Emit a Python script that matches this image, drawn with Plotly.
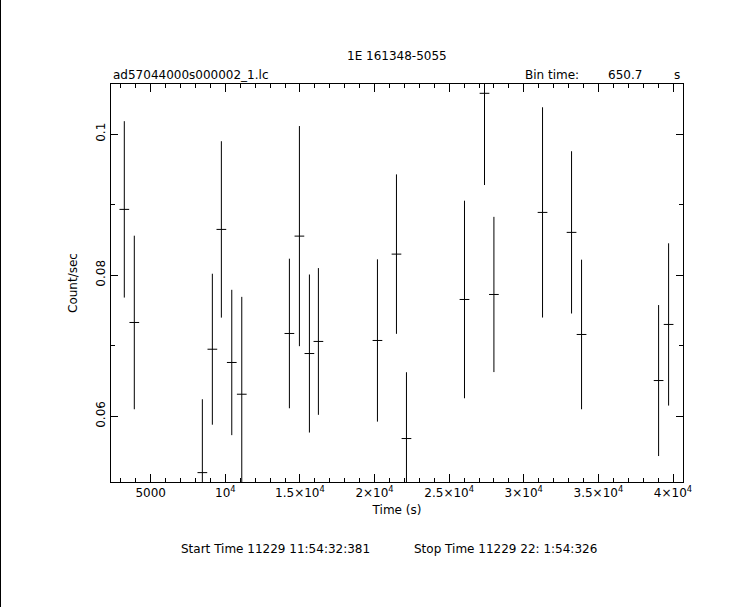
import plotly.graph_objects as go

# Data
time_s = [3230, 3900, 8460, 9130, 9734, 10431, 11102, 14293, 14964, 15634, 16237,
          20194, 21468, 22138, 26027, 27368, 27998, 31257, 33201, 33872, 39035, 39705]
rate = [0.08932, 0.07329, 0.05201, 0.06950, 0.08648, 0.06762, 0.06312, 0.07173,
        0.08553, 0.06889, 0.07060, 0.07074, 0.08298, 0.05684, 0.07655, 0.10577,
        0.07726, 0.08889, 0.08606, 0.07159, 0.06506, 0.07301]
rate_err = [0.0125, 0.0123, 0.0104, 0.0107, 0.0125, 0.0103, 0.0138, 0.0106,
            0.0156, 0.0112, 0.0104, 0.0115, 0.0113, 0.0094, 0.0140, 0.0130,
            0.0110, 0.0149, 0.0115, 0.0106, 0.0107, 0.0115]
half_bin = 325.35

x_tickvals = [5000, 10000, 15000, 20000, 25000, 30000, 35000, 40000]
x_ticktext = ["5000", "10<sup>4</sup>", "1.5×10<sup>4</sup>", "2×10<sup>4</sup>",
              "2.5×10<sup>4</sup>", "3×10<sup>4</sup>", "3.5×10<sup>4</sup>", "4×10<sup>4</sup>"]
y_tickvals = [0.06, 0.08, 0.1]
y_ticktext = ["0.06", "0.08", "0.1"]

FONT = "DejaVu Sans"
fig = go.Figure()
fig.add_trace(go.Scatter(
    x=time_s, y=rate, mode="markers",
    marker=dict(size=1, color="black", opacity=0),
    error_y=dict(type="data", array=rate_err, color="black", thickness=1, width=0),
    error_x=dict(type="constant", value=half_bin, color="black", thickness=1, width=0),
    showlegend=False, hoverinfo="skip",
))

axis_common = dict(
    showgrid=False, zeroline=False, showline=True, linecolor="black", linewidth=1,
    mirror="ticks", ticks="inside", tickcolor="black",
    tickfont=dict(family=FONT, size=12, color="black"),
)
fig.update_xaxes(
    range=[2338, 40670], tickmode="array", tickvals=x_tickvals, ticktext=x_ticktext,
    ticklen=8, tickwidth=1,
    minor=dict(dtick=1000, tick0=0, ticklen=4, tickcolor="black", ticks="inside", showgrid=False),
    title=dict(text="Time (s)", font=dict(family=FONT, size=12, color="black"), standoff=6),
    **axis_common,
)
fig.update_yaxes(
    range=[0.05068, 0.10709], tickmode="array", tickvals=y_tickvals, ticktext=y_ticktext,
    ticklen=7, tickwidth=1, tickangle=-90,
    minor=dict(dtick=0.01, tick0=0, ticklen=4, tickcolor="black", ticks="inside", showgrid=False),
    title=dict(text="Count/sec", font=dict(family=FONT, size=12, color="black"), standoff=14),
    **axis_common,
)

annots = [
    dict(text="1E 161348-5055", x=0.5, y=56, xanchor="center"),
    dict(text="ad57044000s000002_1.lc", x=0.0, y=75, xanchor="left"),
    dict(text="Bin time:", x=(523 - 111) / 572, y=75, xanchor="left"),
    dict(text="650.7", x=(606 - 111) / 572, y=75, xanchor="left"),
    dict(text="s", x=(682 - 111) / 572, y=75, xanchor="right"),
    dict(text="Start Time 11229 11:54:32:381", x=(179 - 111) / 572, y=549, xanchor="left"),
    dict(text="Stop Time 11229 22: 1:54:326", x=(412 - 111) / 572, y=549, xanchor="left"),
]
top, bottom = 84, 482
for a in annots:
    ypaper = (bottom - a["y"]) / (bottom - top)
    fig.add_annotation(text=a["text"], x=a["x"], y=ypaper, xref="paper", yref="paper",
                       xanchor=a["xanchor"], yanchor="middle", showarrow=False,
                       font=dict(family=FONT, size=12, color="black"))

# thin black line on the left edge of the page
fig.add_shape(type="line", xref="paper", yref="paper",
              x0=(0.5 - 111) / 572, x1=(0.5 - 111) / 572,
              y0=(bottom - 0) / (bottom - top), y1=(bottom - 607) / (bottom - top),
              line=dict(color="black", width=1))

fig.update_layout(
    width=755, height=607,
    margin=dict(l=111, r=72, t=84, b=125),
    paper_bgcolor="white", plot_bgcolor="white",
)
fig.write_html("out.html", config={"displayModeBar": False},
               post_script="document.body.style.margin='0';")
